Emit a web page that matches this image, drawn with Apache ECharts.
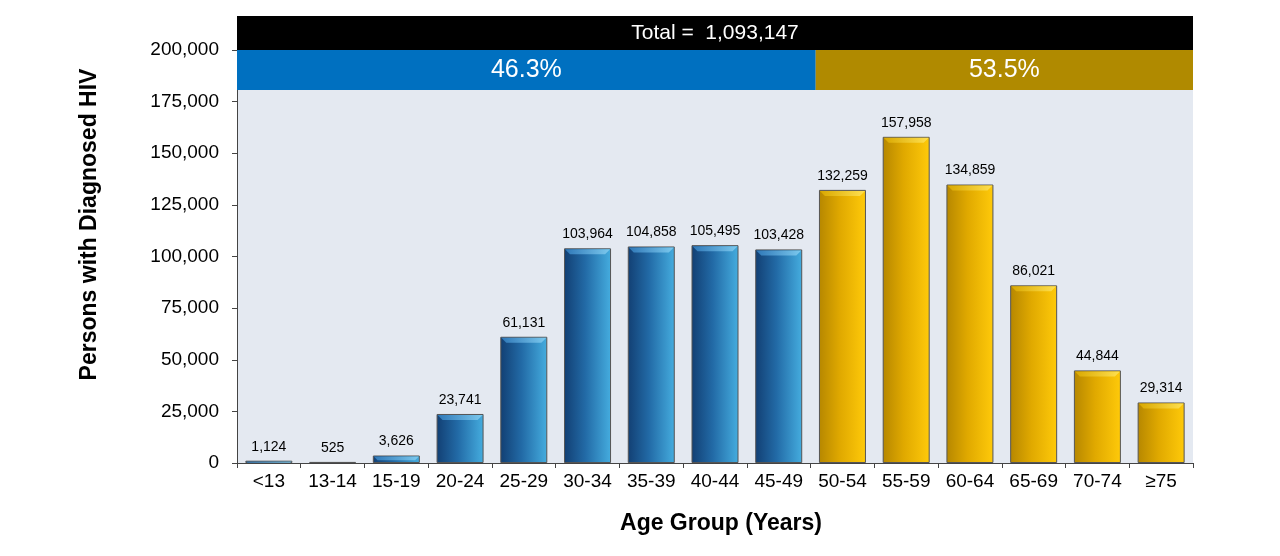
<!DOCTYPE html>
<html>
<head>
<meta charset="utf-8">
<script src="https://cdn.jsdelivr.net/npm/echarts@6/dist/echarts.min.js"></script>
<style>html,body{margin:0;padding:0;background:#fff;}#c{width:1280px;height:556px;}</style>
</head>
<body>
<div id="c"></div>
<script>
const categories = ['<13','13-14','15-19','20-24','25-29','30-34','35-39','40-44','45-49','50-54','55-59','60-64','65-69','70-74','≥75'];
const values = [1124,525,3626,23741,61131,103964,104858,105495,103428,132259,157958,134859,86021,44844,29314];
const groups = ['u50','u50','u50','u50','u50','u50','u50','u50','u50','o50','o50','o50','o50','o50','o50'];
const yTicks = [0,25000,50000,75000,100000,125000,150000,175000,200000];
const bandStart = [0, 9.08];
const bandEnd = [9.08, 15];
const bandLabels = ['46.3%','53.5%'];
const bandLow = 180600, bandHigh = 200000, totalHigh = 216500;
const totalLabel = 'Total =  1,093,147';

const fills = {
  u50: new echarts.graphic.LinearGradient(0,0,1,0,[{offset:0,color:'#123f73'},{offset:0.45,color:'#226aa6'},{offset:1,color:'#45addf'}]),
  o50: new echarts.graphic.LinearGradient(0,0,1,0,[{offset:0,color:'#b68700'},{offset:0.45,color:'#e0a900'},{offset:1,color:'#ffca0a'}])
};
const bevels = {
  u50: new echarts.graphic.LinearGradient(0,0,1,0,[{offset:0,color:'#2f78b8'},{offset:1,color:'#7cc9ee'}]),
  o50: new echarts.graphic.LinearGradient(0,0,1,0,[{offset:0,color:'#d9a800'},{offset:1,color:'#ffe050'}])
};
const bandColors = ['#0070c0','#b08a00'];
const fmt = v => v.toLocaleString('en-US');
const FONT = 'Liberation Sans, Arial';
const BAR_W = 47;

const chart = echarts.init(document.getElementById('c'));
chart.setOption({
  animation:false,
  grid:{left:237,right:87,top:50,bottom:93,show:true,backgroundColor:'#e4e9f1',borderWidth:0},
  xAxis:[{
    type:'category',data:categories,
    axisLine:{lineStyle:{color:'#444'}},
    axisTick:{show:true,length:5,lineStyle:{color:'#444'}},
    axisLabel:{color:'#000',fontSize:19,fontFamily:FONT,margin:9},
    name:'Age Group (Years)',nameLocation:'middle',nameGap:49,
    nameTextStyle:{fontSize:23,fontWeight:'bold',color:'#000',fontFamily:FONT,padding:[0,0,0,12]}
  },{
    type:'value',min:0,max:15,show:false
  }],
  yAxis:{
    type:'value',min:0,max:200000,interval:25000,
    axisLine:{show:true,lineStyle:{color:'#444'}},
    axisTick:{show:true,length:5,lineStyle:{color:'#444'}},
    splitLine:{show:false},
    axisLabel:{color:'#000',fontSize:19,fontFamily:FONT,margin:18,
      formatter:v=>yTicks.indexOf(v)>=0?fmt(v):''},
    name:'Persons with Diagnosed HIV',nameLocation:'middle',nameGap:136,
    nameTextStyle:{fontSize:23,fontWeight:'bold',color:'#000',fontFamily:FONT,padding:[0,0,0,64]}
  },
  series:[{
    type:'bar',
    barWidth:BAR_W,
    data:values.map((v,i)=>({value:v,itemStyle:{color:fills[groups[i]]}})),
    itemStyle:{borderColor:'#555',borderWidth:1},
    label:{show:true,position:'top',distance:7,color:'#000',fontSize:14,fontFamily:FONT,formatter:p=>fmt(p.value)}
  },{
    type:'custom',
    silent:true,
    z:3,
    data:values.map((v,i)=>[i,v]),
    renderItem:(params,api)=>{
      const top = api.coord([api.value(0),api.value(1)]);
      const base = api.coord([api.value(0),0]);
      const h = base[1]-top[1];
      const b = Math.min(5, h/2);
      const x0 = top[0]-BAR_W/2+1, x1 = top[0]+BAR_W/2-1, y0 = top[1]+1;
      if (h < 2) return null;
      return {
        type:'polygon',
        shape:{points:[[x0,y0],[x1,y0],[x1-b,y0+b],[x0+b,y0+b]]},
        style:{fill:bevels[groups[params.dataIndex]]}
      };
    }
  },{
    type:'custom',
    xAxisIndex:1,
    clip:false,
    silent:true,
    z:5,
    data:[[0,15,bandHigh,totalHigh]].concat(bandStart.map((s,i)=>[s,bandEnd[i],bandLow,bandHigh])),
    renderItem:(params,api)=>{
      const p0 = api.coord([api.value(0),api.value(2)]);
      const p1 = api.coord([api.value(1),api.value(3)]);
      const d = params.dataIndex;
      const text = d===0 ? totalLabel : bandLabels[d-1];
      const fill = d===0 ? '#000' : bandColors[d-1];
      const fs = d===0 ? 21 : 25;
      return {
        type:'group',
        children:[{
          type:'rect',
          shape:{x:p0[0],y:p1[1],width:p1[0]-p0[0],height:p0[1]-p1[1]},
          style:{fill:fill}
        },{
          type:'text',
          style:{text:text,x:(p0[0]+p1[0])/2,y:(p0[1]+p1[1])/2,align:'center',verticalAlign:'middle',
            fill:'#fff',fontSize:fs,fontFamily:FONT}
        }]
      };
    }
  }]
});
</script>
</body>
</html>
